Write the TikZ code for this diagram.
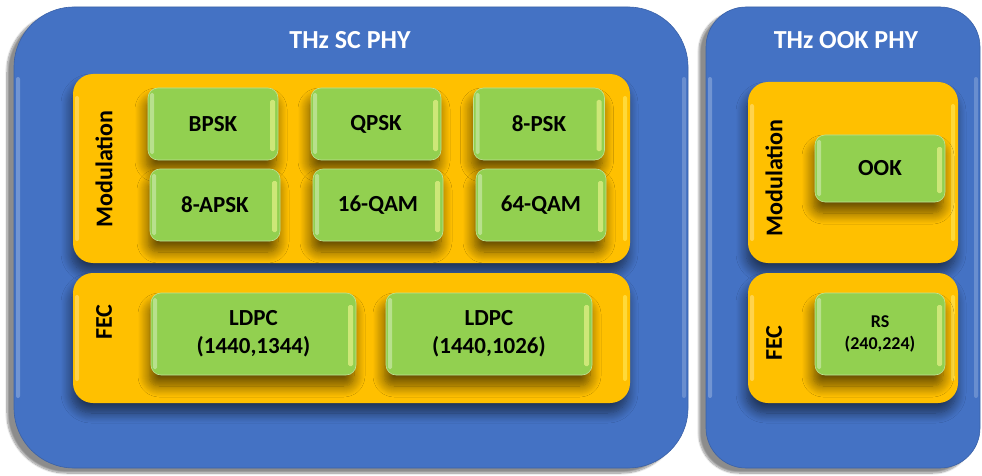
\documentclass[tikz,border=0pt]{standalone}
\usepackage{fontspec}
\setmainfont{Carlito}
\usetikzlibrary{shadows.blur}
\definecolor{phyblue}{HTML}{4472C4}
\definecolor{grporange}{HTML}{FFC000}
\definecolor{schemegreen}{HTML}{92D050}
\tikzset{
  phybox/.style={fill=phyblue, draw=phyblue!85!black, line width=0.6pt,
    blur shadow={shadow xshift=-7pt, shadow yshift=-5pt, shadow blur steps=12, shadow opacity=45},
    path picture={
      \fill[white, opacity=.25, rounded corners=2pt]
        ([xshift=2pt,yshift=-70pt]path picture bounding box.north west) rectangle
        ([xshift=6pt,yshift=70pt]path picture bounding box.south west);
      \fill[white, opacity=.2, rounded corners=2pt]
        ([xshift=-6pt,yshift=-70pt]path picture bounding box.north east) rectangle
        ([xshift=-2pt,yshift=70pt]path picture bounding box.south east);
    }},
  grpbox/.style={fill=grporange, draw=none, rounded corners=20pt,
    blur shadow={shadow xshift=-2pt, shadow yshift=-10pt, shadow blur steps=12, shadow opacity=55, shadow blur radius=10pt},
    path picture={
      \fill[white, opacity=.3, rounded corners=2pt]
        ([xshift=2pt,yshift=-22pt]path picture bounding box.north west) rectangle
        ([xshift=6pt,yshift=22pt]path picture bounding box.south west);
      \fill[yellow!50!white, opacity=.45, rounded corners=2pt]
        ([xshift=-7pt,yshift=-22pt]path picture bounding box.north east) rectangle
        ([xshift=-3pt,yshift=22pt]path picture bounding box.south east);
    }},
  schemebox/.style={fill=schemegreen, draw=schemegreen!60!white, line width=0.6pt, rounded corners=10pt,
    font=\bfseries\fontsize{23}{28}\selectfont, align=center, inner sep=0pt,
    blur shadow={shadow xshift=-2pt, shadow yshift=-11pt, shadow blur steps=12, shadow opacity=60, shadow blur radius=11pt},
    path picture={
      \fill[white, opacity=.35, rounded corners=1.5pt]
        ([xshift=2pt,yshift=-5pt]path picture bounding box.north west) rectangle
        ([xshift=6pt,yshift=6pt]path picture bounding box.south west);
      \fill[yellow!40!white, opacity=.55, rounded corners=1.5pt]
        ([xshift=-8pt,yshift=-12pt]path picture bounding box.north east) rectangle
        ([xshift=-3pt,yshift=9pt]path picture bounding box.south east);
    }},
  title/.style={text=white, font=\bfseries\fontsize{26}{30}\selectfont},
  grplabel/.style={rotate=90, font=\bfseries\fontsize{24}{28}\selectfont}
}
\begin{document}
\begin{tikzpicture}[x=1pt, y=-1pt]
  \useasboundingbox (0,0) rectangle (982,476);

  % outer PHY containers
  \node[phybox, rounded corners=60pt, minimum width=674pt, minimum height=461pt] (sc) at (351,237.5) {};
  \node[phybox, rounded corners=40pt, minimum width=274pt, minimum height=461pt] (ook) at (843,237.5) {};
  \node[title] (sctitle) at (350,40) {THz SC PHY};
  \node[title] (ooktitle) at (846,40) {THz OOK PHY};

  % SC PHY groups
  \node[grpbox, minimum width=557pt, minimum height=189pt] (scmod) at (351.5,168.5) {};
  \node[grpbox, minimum width=557pt, minimum height=130pt] (scfec) at (351.5,338) {};
  \node[grplabel] (scmodlbl) at (104,169) {Modulation};
  \node[grplabel] (scfeclbl) at (104,322) {FEC};

  % SC PHY modulation schemes
  \node[schemebox, minimum width=130pt, minimum height=72pt] (bpsk) at (213,124) {BPSK};
  \node[schemebox, minimum width=130pt, minimum height=72pt] (qpsk) at (376,124) {QPSK};
  \node[schemebox, minimum width=131pt, minimum height=72pt] (psk8) at (539,124) {8-PSK};
  \node[schemebox, minimum width=130pt, minimum height=72pt] (apsk8) at (215,205) {8-APSK};
  \node[schemebox, minimum width=130pt, minimum height=72pt] (qam16) at (378,205) {16-QAM};
  \node[schemebox, minimum width=130pt, minimum height=72pt] (qam64) at (541,205) {64-QAM};

  % SC PHY FEC schemes
  \node[schemebox, minimum width=205pt, minimum height=82pt] (ldpca) at (253.5,334) {LDPC\\(1440,1344)};
  \node[schemebox, minimum width=206pt, minimum height=82pt] (ldpcb) at (489,334) {LDPC\\(1440,1026)};

  % OOK PHY groups
  \node[grpbox, minimum width=210pt, minimum height=181pt] (ookmod) at (853,172.5) {};
  \node[grpbox, minimum width=210pt, minimum height=130pt] (ookfec) at (853,338) {};
  \node[grplabel] (ookmodlbl) at (774,178) {Modulation};
  \node[grplabel] (ookfeclbl) at (774,343) {FEC};

  % OOK PHY schemes
  \node[schemebox, minimum width=130pt, minimum height=67pt] (ookscheme) at (880,168.5) {OOK};
  \node[schemebox, minimum width=130pt, minimum height=82pt,
        font=\bfseries\fontsize{18}{22}\selectfont] (rs) at (880,334) {RS\\(240,224)};
\end{tikzpicture}
\end{document}
